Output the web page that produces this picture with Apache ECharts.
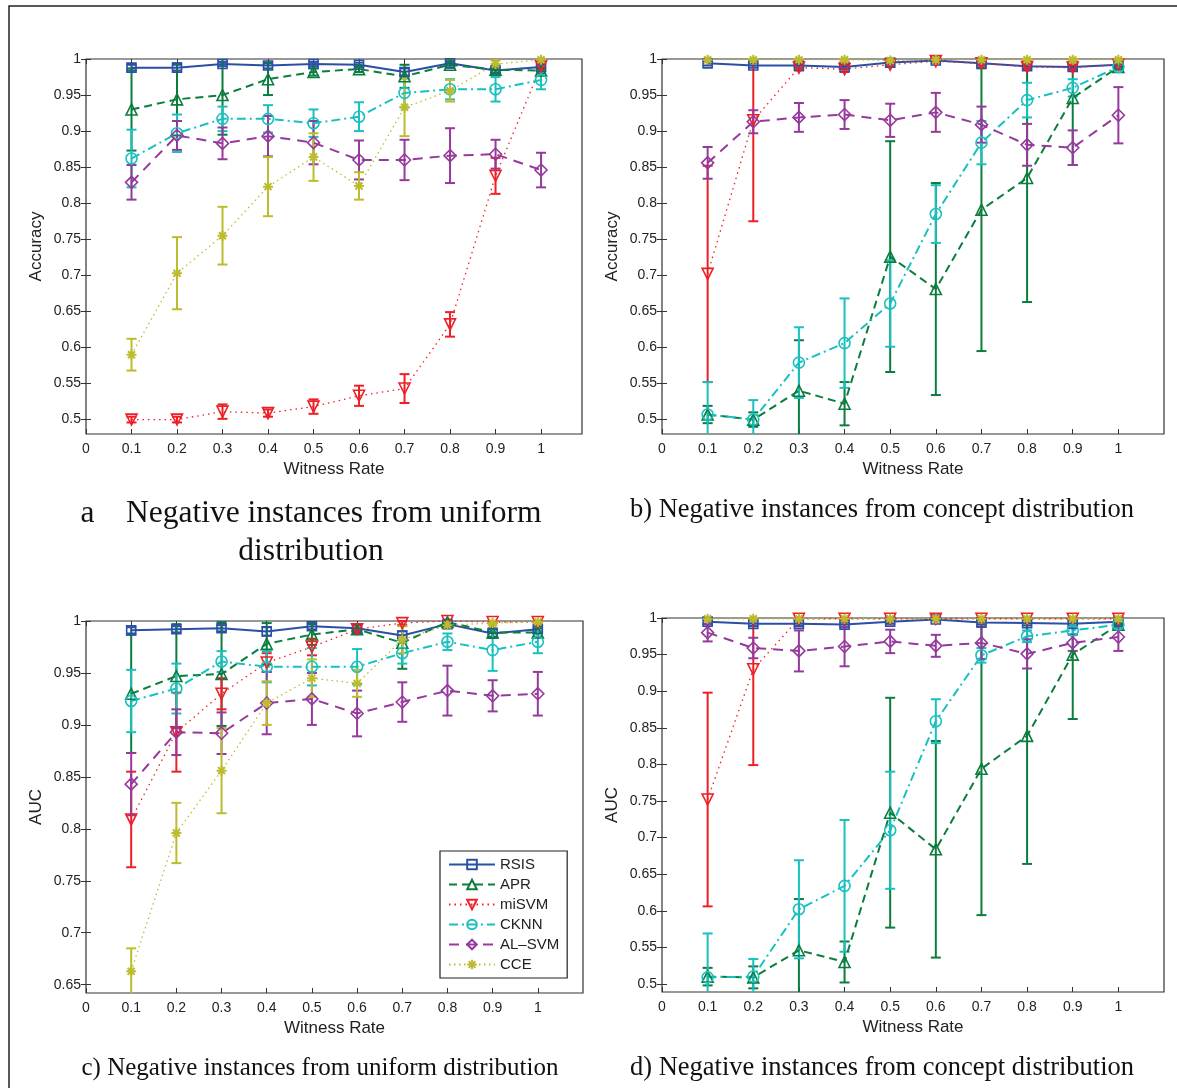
<!DOCTYPE html>
<html>
<head>
<meta charset="utf-8">
<script src="https://cdn.jsdelivr.net/npm/echarts@6/dist/echarts.min.js"></script>
<style>
  html, body { margin: 0; padding: 0; background: #fff; }
  #chart { width: 1177px; height: 1088px; }
</style>
</head>
<body>
<div id="chart"></div>
<script>
// witness rates on the x axis
var witness = [0.1, 0.2, 0.3, 0.4, 0.5, 0.6, 0.7, 0.8, 0.9, 1.0];
var methods = ['RSIS', 'APR', 'miSVM', 'CKNN', 'AL\u2013SVM', 'CCE'];

// tick labels
var xTicks = [0, 0.1, 0.2, 0.3, 0.4, 0.5, 0.6, 0.7, 0.8, 0.9, 1];
var yTicksHalf = [0.5, 0.55, 0.6, 0.65, 0.7, 0.75, 0.8, 0.85, 0.9, 0.95, 1];
var yTicksAucU = [0.65, 0.7, 0.75, 0.8, 0.85, 0.9, 0.95, 1];

// (a) accuracy, negatives from uniform distribution
var aRSIS = [0.988, 0.988, 0.993, 0.991, 0.993, 0.992, 0.982, 0.994, 0.984, 0.989];
var aRSISErr = [0.004, 0.004, 0.003, 0.004, 0.003, 0.003, 0.005, 0.003, 0.004, 0.003];
var aAPR = [0.930, 0.944, 0.950, 0.972, 0.982, 0.986, 0.976, 0.992, 0.985, 0.984];
var aAPRErr = [0.057, 0.050, 0.055, 0.022, 0.005, 0.004, 0.016, 0.004, 0.004, 0.004];
var aMiSVM = [0.500, 0.500, 0.511, 0.509, 0.518, 0.533, 0.543, 0.632, 0.838, 0.990];
var aMiSVMErr = [0.004, 0.004, 0.010, 0.005, 0.010, 0.014, 0.020, 0.017, 0.025, 0.004];
var aCKNN = [0.862, 0.897, 0.917, 0.917, 0.911, 0.920, 0.953, 0.958, 0.958, 0.971];
var aCKNNErr = [0.040, 0.026, 0.017, 0.019, 0.019, 0.020, 0.020, 0.014, 0.017, 0.013];
var aALSVM = [0.829, 0.894, 0.883, 0.893, 0.884, 0.860, 0.860, 0.866, 0.868, 0.846];
var aALSVMErr = [0.024, 0.020, 0.022, 0.028, 0.030, 0.027, 0.028, 0.038, 0.020, 0.024];
var aCCE = [0.590, 0.703, 0.755, 0.823, 0.864, 0.824, 0.933, 0.956, 0.993, 0.999];
var aCCEErr = [0.022, 0.050, 0.040, 0.041, 0.033, 0.019, 0.040, 0.015, 0.005, 0.002];

// (b) accuracy, negatives from concept distribution
var bRSIS = [0.994, 0.991, 0.991, 0.989, 0.995, 0.998, 0.994, 0.990, 0.989, 0.992];
var bRSISErr = [0.003, 0.003, 0.003, 0.003, 0.003, 0.002, 0.003, 0.003, 0.003, 0.003];
var bAPR = [0.507, 0.500, 0.540, 0.522, 0.726, 0.681, 0.791, 0.835, 0.946, 0.989];
var bAPRErr = [0.012, 0.010, 0.070, 0.030, 0.160, 0.147, 0.196, 0.172, 0.093, 0.004];
var bMiSVM = [0.702, 0.915, 0.988, 0.986, 0.992, 0.997, 0.994, 0.989, 0.988, 0.992];
var bMiSVMErr = [0.150, 0.140, 0.004, 0.004, 0.003, 0.002, 0.003, 0.004, 0.004, 0.003];
var bCKNN = [0.507, 0.500, 0.579, 0.606, 0.661, 0.785, 0.884, 0.943, 0.960, 0.989];
var bCKNNErr = [0.045, 0.027, 0.049, 0.062, 0.060, 0.040, 0.030, 0.024, 0.012, 0.004];
var bALSVM = [0.856, 0.913, 0.919, 0.923, 0.915, 0.926, 0.909, 0.881, 0.877, 0.922];
var bALSVMErr = [0.022, 0.016, 0.020, 0.020, 0.023, 0.027, 0.025, 0.029, 0.024, 0.039];
var bCCE = [0.999, 0.999, 0.999, 0.999, 0.998, 0.999, 0.999, 0.999, 0.999, 0.999];
var bCCEErr = [0.001, 0.001, 0.001, 0.001, 0.001, 0.001, 0.001, 0.001, 0.001, 0.001];

// (c) AUC, negatives from uniform distribution
var cRSIS = [0.991, 0.992, 0.993, 0.990, 0.995, 0.993, 0.986, 0.997, 0.988, 0.992];
var cRSISErr = [0.003, 0.003, 0.003, 0.004, 0.003, 0.003, 0.004, 0.002, 0.004, 0.003];
var cAPR = [0.930, 0.947, 0.949, 0.978, 0.987, 0.992, 0.979, 0.999, 0.989, 0.989];
var cAPRErr = [0.057, 0.050, 0.050, 0.020, 0.010, 0.004, 0.025, 0.002, 0.004, 0.004];
var cMiSVM = [0.809, 0.893, 0.930, 0.960, 0.975, 0.992, 0.998, 1.000, 0.999, 0.999];
var cMiSVMErr = [0.046, 0.038, 0.015, 0.009, 0.008, 0.004, 0.002, 0.001, 0.001, 0.001];
var cCKNN = [0.923, 0.935, 0.961, 0.956, 0.956, 0.956, 0.969, 0.980, 0.972, 0.980];
var cCKNNErr = [0.030, 0.024, 0.010, 0.015, 0.018, 0.017, 0.010, 0.008, 0.020, 0.011];
var cALSVM = [0.843, 0.893, 0.892, 0.921, 0.925, 0.911, 0.922, 0.933, 0.928, 0.930];
var cALSVMErr = [0.030, 0.022, 0.020, 0.030, 0.025, 0.022, 0.019, 0.024, 0.015, 0.021];
var cCCE = [0.663, 0.796, 0.856, 0.921, 0.945, 0.940, 0.982, 0.996, 0.998, 0.999];
var cCCEErr = [0.022, 0.029, 0.041, 0.021, 0.018, 0.013, 0.013, 0.003, 0.002, 0.001];

// (d) AUC, negatives from concept distribution
var dRSIS = [0.995, 0.992, 0.992, 0.991, 0.995, 0.998, 0.994, 0.993, 0.992, 0.995];
var dRSISErr = [0.003, 0.003, 0.003, 0.003, 0.003, 0.002, 0.003, 0.003, 0.003, 0.003];
var dAPR = [0.510, 0.509, 0.546, 0.530, 0.734, 0.684, 0.794, 0.839, 0.950, 0.991];
var dAPRErr = [0.012, 0.015, 0.070, 0.028, 0.157, 0.148, 0.200, 0.175, 0.088, 0.004];
var dMiSVM = [0.752, 0.930, 0.999, 0.999, 0.999, 0.999, 0.999, 0.999, 0.999, 0.999];
var dMiSVMErr = [0.146, 0.131, 0.001, 0.001, 0.001, 0.001, 0.001, 0.001, 0.001, 0.001];
var dCKNN = [0.509, 0.510, 0.602, 0.634, 0.710, 0.859, 0.949, 0.975, 0.983, 0.991];
var dCKNNErr = [0.060, 0.024, 0.067, 0.090, 0.080, 0.030, 0.010, 0.008, 0.005, 0.004];
var dALSVM = [0.980, 0.959, 0.955, 0.961, 0.968, 0.962, 0.966, 0.951, 0.966, 0.974];
var dALSVMErr = [0.012, 0.014, 0.028, 0.027, 0.016, 0.015, 0.022, 0.020, 0.011, 0.019];
var dCCE = [0.999, 0.999, 0.999, 0.999, 0.999, 0.999, 0.999, 0.999, 0.999, 0.999];
var dCCEErr = [0.001, 0.001, 0.001, 0.001, 0.001, 0.001, 0.001, 0.001, 0.001, 0.001];

// look of each method (same order as methods)
var colors = ['#2b4ea6', '#0b7d3c', '#ee1f26', '#19c0c0', '#96399c', '#bcbc2e'];
var symbols = [
    'rect',
    'triangle',
    'path://M0,0L10,0L5,9Z',
    'circle',
    'diamond',
    'path://M5,0V10M0,5H10M1.5,1.5L8.5,8.5M1.5,8.5L8.5,1.5'
];
var symbolSizes = [9, 11, 11, 11, 12, 10];
var dashes = ['solid', [8, 5], [1.5, 4], [9, 4, 2, 4], [10, 7], [1.5, 3.5]];
var lineWidths = [2, 2, 1.3, 2, 2, 1.3];

var panels = [
    { means: [aRSIS, aAPR, aMiSVM, aCKNN, aALSVM, aCCE],
      errs: [aRSISErr, aAPRErr, aMiSVMErr, aCKNNErr, aALSVMErr, aCCEErr] },
    { means: [bRSIS, bAPR, bMiSVM, bCKNN, bALSVM, bCCE],
      errs: [bRSISErr, bAPRErr, bMiSVMErr, bCKNNErr, bALSVMErr, bCCEErr] },
    { means: [cRSIS, cAPR, cMiSVM, cCKNN, cALSVM, cCCE],
      errs: [cRSISErr, cAPRErr, cMiSVMErr, cCKNNErr, cALSVMErr, cCCEErr] },
    { means: [dRSIS, dAPR, dMiSVM, dCKNN, dALSVM, dCCE],
      errs: [dRSISErr, dAPRErr, dMiSVMErr, dCKNNErr, dALSVMErr, dCCEErr] }
];

// grid boxes and axis ranges, in page pixels
var grids = [
    { left: 86, top: 59, width: 496, height: 375, show: true, borderColor: '#333', borderWidth: 1.2 },
    { left: 662, top: 59, width: 502, height: 375, show: true, borderColor: '#333', borderWidth: 1.2 },
    { left: 86, top: 621, width: 497, height: 372, show: true, borderColor: '#333', borderWidth: 1.2 },
    { left: 662, top: 618, width: 502, height: 374, show: true, borderColor: '#333', borderWidth: 1.2 }
];
var xMax = [1.09, 1.1, 1.1, 1.1];
var yMin = [0.48, 0.48, 0.642, 0.489];
var yNames = ['Accuracy', 'Accuracy', 'AUC', 'AUC'];
var yTickSets = [yTicksHalf, yTicksHalf, yTicksAucU, yTicksHalf];

var labelFont = { fontFamily: 'Liberation Sans', fontSize: 14, color: '#222' };

function fmt(v) {
    return String(+v.toFixed(2));
}

var xAxes = [], yAxes = [];
for (var g = 0; g < 4; g++) {
    xAxes.push({
        type: 'value', gridIndex: g, min: 0, max: xMax[g],
        name: 'Witness Rate', nameLocation: 'middle', nameGap: 27,
        nameTextStyle: { fontFamily: 'Liberation Sans', fontSize: 17, color: '#222' },
        axisLine: { show: false },
        axisTick: { inside: true, length: 5, customValues: xTicks, lineStyle: { color: '#333' } },
        axisLabel: Object.assign({ customValues: xTicks, margin: 8, formatter: fmt }, labelFont),
        splitLine: { show: false }
    });
    yAxes.push({
        type: 'value', gridIndex: g, min: yMin[g], max: 1,
        name: yNames[g], nameLocation: 'middle', nameGap: 41,
        nameTextStyle: { fontFamily: 'Liberation Sans', fontSize: 17, color: '#222' },
        axisLine: { show: false },
        axisTick: { inside: true, length: 5, customValues: yTickSets[g], lineStyle: { color: '#333' } },
        axisLabel: Object.assign({ customValues: yTickSets[g], margin: 5, formatter: fmt }, labelFont),
        splitLine: { show: false }
    });
}
// mirrored axes so the ticks show on the top and right sides of each box
for (var g2 = 0; g2 < 4; g2++) {
    xAxes.push({
        type: 'value', gridIndex: g2, position: 'top', min: 0, max: xMax[g2],
        axisLine: { show: false },
        axisTick: { inside: true, length: 5, customValues: xTicks, lineStyle: { color: '#333' } },
        axisLabel: { show: false }, splitLine: { show: false }
    });
    yAxes.push({
        type: 'value', gridIndex: g2, position: 'right', min: yMin[g2], max: 1,
        axisLine: { show: false },
        axisTick: { inside: true, length: 5, customValues: yTickSets[g2], lineStyle: { color: '#333' } },
        axisLabel: { show: false }, splitLine: { show: false }
    });
}

function errorBars(color) {
    return function (params, api) {
        var x = api.value(0), m = api.value(1), e = api.value(2);
        var cs = params.coordSys;
        var hi = api.coord([x, m + e]);
        var lo = api.coord([x, m - e]);
        var yTop = Math.max(hi[1], cs.y);
        var yBot = Math.min(lo[1], cs.y + cs.height);
        var st = { stroke: color, lineWidth: 2 };
        var kids = [{ type: 'line', shape: { x1: hi[0], y1: yTop, x2: hi[0], y2: yBot }, style: st }];
        if (hi[1] >= cs.y) {
            kids.push({ type: 'line', shape: { x1: hi[0] - 5, y1: hi[1], x2: hi[0] + 5, y2: hi[1] }, style: st });
        }
        if (lo[1] <= cs.y + cs.height) {
            kids.push({ type: 'line', shape: { x1: lo[0] - 5, y1: lo[1], x2: lo[0] + 5, y2: lo[1] }, style: st });
        }
        return { type: 'group', children: kids };
    };
}

var series = [];
panels.forEach(function (p, gi) {
    methods.forEach(function (name, k) {
        series.push({
            type: 'custom', xAxisIndex: gi, yAxisIndex: gi, silent: true, z: 3,
            renderItem: errorBars(colors[k]),
            encode: { x: 0, y: 1 },
            data: witness.map(function (w, i) { return [w, p.means[k][i], p.errs[k][i]]; })
        });
        series.push({
            name: name, type: 'line', xAxisIndex: gi, yAxisIndex: gi, z: 4,
            symbol: symbols[k], symbolSize: symbolSizes[k],
            showAllSymbol: true, animation: false,
            lineStyle: { color: colors[k], width: lineWidths[k], type: dashes[k] },
            itemStyle: { color: 'rgba(0,0,0,0)', borderColor: colors[k], borderWidth: k === 5 ? 2 : 1.6 },
            data: witness.map(function (w, i) { return [w, p.means[k][i]]; })
        });
    });
});

var titleFont = { fontFamily: 'Liberation Serif', fontWeight: 'normal', color: '#111' };

var myChart = echarts.init(document.getElementById('chart'));
myChart.setOption({
    backgroundColor: '#fff',
    animation: false,
    title: [
        { text: 'a    Negative instances from uniform\ndistribution', left: 306, top: 490, textAlign: 'center',
          textStyle: Object.assign({ fontSize: 31.5, lineHeight: 38 }, titleFont) },
        { text: 'b) Negative instances from concept distribution', left: 877, top: 492, textAlign: 'center',
          textStyle: Object.assign({ fontSize: 26.5 }, titleFont) },
        { text: 'c) Negative instances from uniform distribution', left: 315, top: 1051, textAlign: 'center',
          textStyle: Object.assign({ fontSize: 25 }, titleFont) },
        { text: 'd) Negative instances from concept distribution', left: 877, top: 1050, textAlign: 'center',
          textStyle: Object.assign({ fontSize: 26.5 }, titleFont) }
    ],
    legend: {
        data: methods, orient: 'vertical', left: 440, top: 851,
        backgroundColor: '#fff', borderColor: '#222', borderWidth: 1.2,
        padding: [6, 8, 6, 8], itemWidth: 46, itemHeight: 12, itemGap: 5,
        selectedMode: false,
        textStyle: { fontFamily: 'Liberation Sans', fontSize: 15, color: '#222' }
    },
    graphic: [
        { type: 'rect', shape: { x: 9, y: 6, width: 1200, height: 1120 }, silent: true,
          style: { fill: 'none', stroke: '#222', lineWidth: 1.5 }, z: -1 }
    ],
    grid: grids,
    xAxis: xAxes,
    yAxis: yAxes,
    series: series
});
</script>
</body>
</html>
